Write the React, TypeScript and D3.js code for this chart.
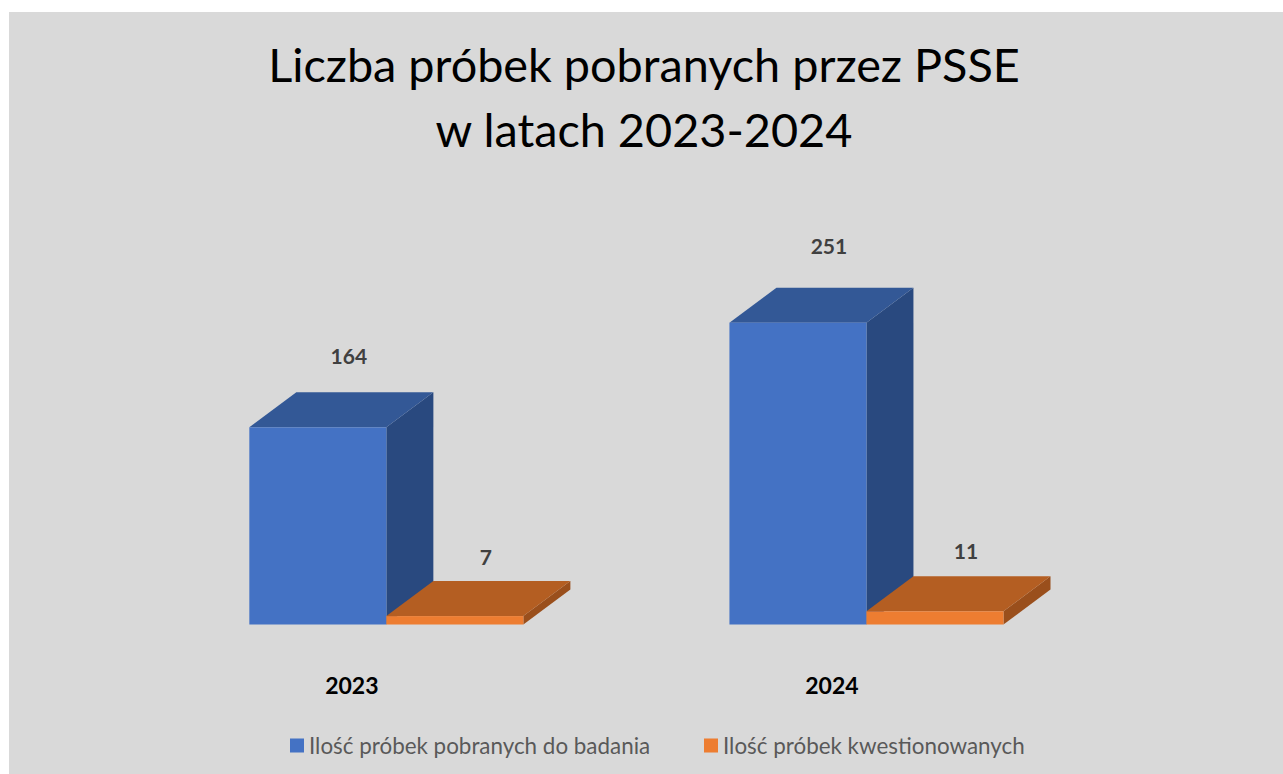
import React from "react";
import * as d3 from "d3";

const categories = ["2023", "2024"];
const seriesNames = ["Ilość próbek pobranych do badania", "Ilość próbek kwestionowanych"];
const seriesValues = [
  [164, 251],
  [7, 11],
];
const titleLines = ["Liczba próbek pobranych przez PSSE", "w latach 2023-2024"];

const W = 1283;
const H = 774;
const FONT = "Lato, 'Open Sans', sans-serif";
const palette = [
  { front: "#4472c4", top: "#335896", side: "#29497f" },
  { front: "#ed7d31", top: "#b45e22", side: "#9a4f1c" },
];
const DX = 47;
const DY = 35;

export default function App() {
  const x = d3
    .scaleBand<string>()
    .domain(categories)
    .range([129.3, 1123.5])
    .paddingInner(0.4292)
    .paddingOuter(0.25);
  const inner = d3
    .scaleBand<string>()
    .domain(seriesNames)
    .range([0, x.bandwidth()])
    .padding(0);
  const y = d3.scaleLinear().domain([0, 300]).range([624.5, 624.5 - 360.75]);
  const y0 = y(0);
  const bw = inner.bandwidth();

  return (
    <svg
      width={W}
      height={H}
      style={{ position: "absolute", left: 0, top: 0 }}
      xmlns="http://www.w3.org/2000/svg"
    >
      <rect x={0} y={0} width={W} height={H} fill="#ffffff" />
      <rect x={9} y={12} width={W - 9} height={H - 12} fill="#d9d9d9" />
      {titleLines.map((t, i) => (
        <text
          key={t}
          x={644}
          y={81.7 + i * 65}
          textAnchor="middle"
          fontFamily={FONT}
          fontSize={46.8}
          fill="#000000"
        >
          {t}
        </text>
      ))}
      {categories.map((c, ci) => (
        <g key={c}>
          {seriesNames.map((s, si) => {
            const v = seriesValues[si][ci];
            const bx = (x(c) as number) + (inner(s) as number);
            const yt = y(v);
            const col = palette[si];
            const top = [
              [bx, yt],
              [bx + DX, yt - DY],
              [bx + bw + DX, yt - DY],
              [bx + bw, yt],
            ];
            const side = [
              [bx + bw, yt],
              [bx + bw + DX, yt - DY],
              [bx + bw + DX, y0 - DY],
              [bx + bw, y0],
            ];
            const h = y0 - yt;
            return (
              <g key={s}>
                <polygon points={side.map((p) => p.join(",")).join(" ")} fill={col.side} />
                <polygon points={top.map((p) => p.join(",")).join(" ")} fill={col.top} />
                <rect x={bx} y={yt} width={bw} height={h} fill={col.front} />
                <text
                  x={bx + bw / 2 + 31}
                  y={yt - DY - 16 - 0.06 * h}
                  textAnchor="middle"
                  fontFamily={FONT}
                  fontWeight="bold"
                  fontSize={21}
                  fill="#404040"
                >
                  {v}
                </text>
              </g>
            );
          })}
          <text
            x={(x(c) as number) + (inner(seriesNames[0]) as number) + bw / 2 + 34}
            y={694.3}
            textAnchor="middle"
            fontFamily={FONT}
            fontWeight="bold"
            fontSize={23}
            fill="#000000"
          >
            {c}
          </text>
        </g>
      ))}
      {seriesNames.map((s, si) => {
        const lx = si === 0 ? 290 : 704;
        return (
          <g key={s}>
            <rect x={lx} y={738.5} width={14} height={14} fill={palette[si].front} />
            <text
              x={lx + 19}
              y={753.7}
              fontFamily={FONT}
              fontSize={22.4}
              fill="#595959"
            >
              {s}
            </text>
          </g>
        );
      })}
    </svg>
  );
}
